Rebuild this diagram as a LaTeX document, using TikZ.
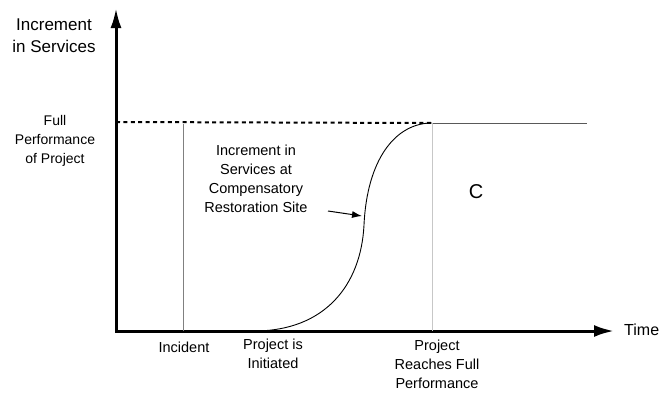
\documentclass[tikz,border=0pt]{standalone}
\usepackage{fontspec}
\setmainfont{Liberation Sans}
\usetikzlibrary{arrows.meta}
\begin{document}
\begin{tikzpicture}[x=1pt,y=-1pt,
  lbl/.style={align=center,inner sep=0pt,font=\fontsize{14.5}{19}\selectfont},
  axis/.style={line width=3pt,line join=miter,{Latex[length=20pt,width=11pt]}-{Latex[length=20pt,width=12pt]}},
  guide/.style={line width=0.8pt},
  curveline/.style={line width=0.9pt,black},
  pointer/.style={line width=1pt,-{Latex[length=10pt,width=7pt]}}
]
\useasboundingbox (0,0) rectangle (664,394);

% axes
\coordinate (top) at (116,8);
\coordinate (origin) at (116,331);
\coordinate (right) at (614,331);
\draw[axis] (top) -- (origin) -- (right);

% key points along the time axis
\coordinate (inc) at (183,331);
\coordinate (incTop) at (183,124);
\coordinate (start) at (254,331);
\coordinate (mid) at (364,225);
\coordinate (full) at (432,123);
\coordinate (fullBase) at (432,331);
\coordinate (endLine) at (587,123);
\coordinate (fullLeft) at (116,122);

% full performance level
\draw[line width=2pt,dash pattern=on 4pt off 3.4pt] (fullLeft) -- (full);
\draw[guide,black!65] (full) -- (endLine);

% vertical markers
\draw[guide,black!50] (inc) -- (incTop);
\draw[guide,black!22] (fullBase) -- (full);

% recovery curve
\draw[curveline] (start) .. controls (325,331) and (361,285) .. (mid)
                         .. controls (367,160) and (395,123) .. (full);

% labels
\node[lbl,font=\fontsize{17}{22}\selectfont] (ylab) at (54,36) {Increment\\in Services};
\node[lbl,font=\fontsize{14}{19}\selectfont] (fplab) at (55,141) {Full\\Performance\\of Project};
\node[lbl] (inclab) at (184,347) {Incident};
\node[lbl] (initlab) at (273,354) {Project is\\Initiated};
\node[lbl] (reachlab) at (437,364) {Project\\Reaches Full\\Performance};
\node[lbl] (sitelab) at (256,179) {Increment in\\Services at\\Compensatory\\Restoration Site};
\node[lbl,font=\fontsize{20}{24}\selectfont] (clab) at (476,192) {C};
\node[lbl,font=\fontsize{16}{19}\selectfont,anchor=west] (tlab) at (624,330) {Time};

% pointer from the site label to the curve
\coordinate (ptrStart) at (328,211);
\coordinate (ptrEnd) at (362,216);
\draw[pointer] (ptrStart) -- (ptrEnd);
\end{tikzpicture}
\end{document}
